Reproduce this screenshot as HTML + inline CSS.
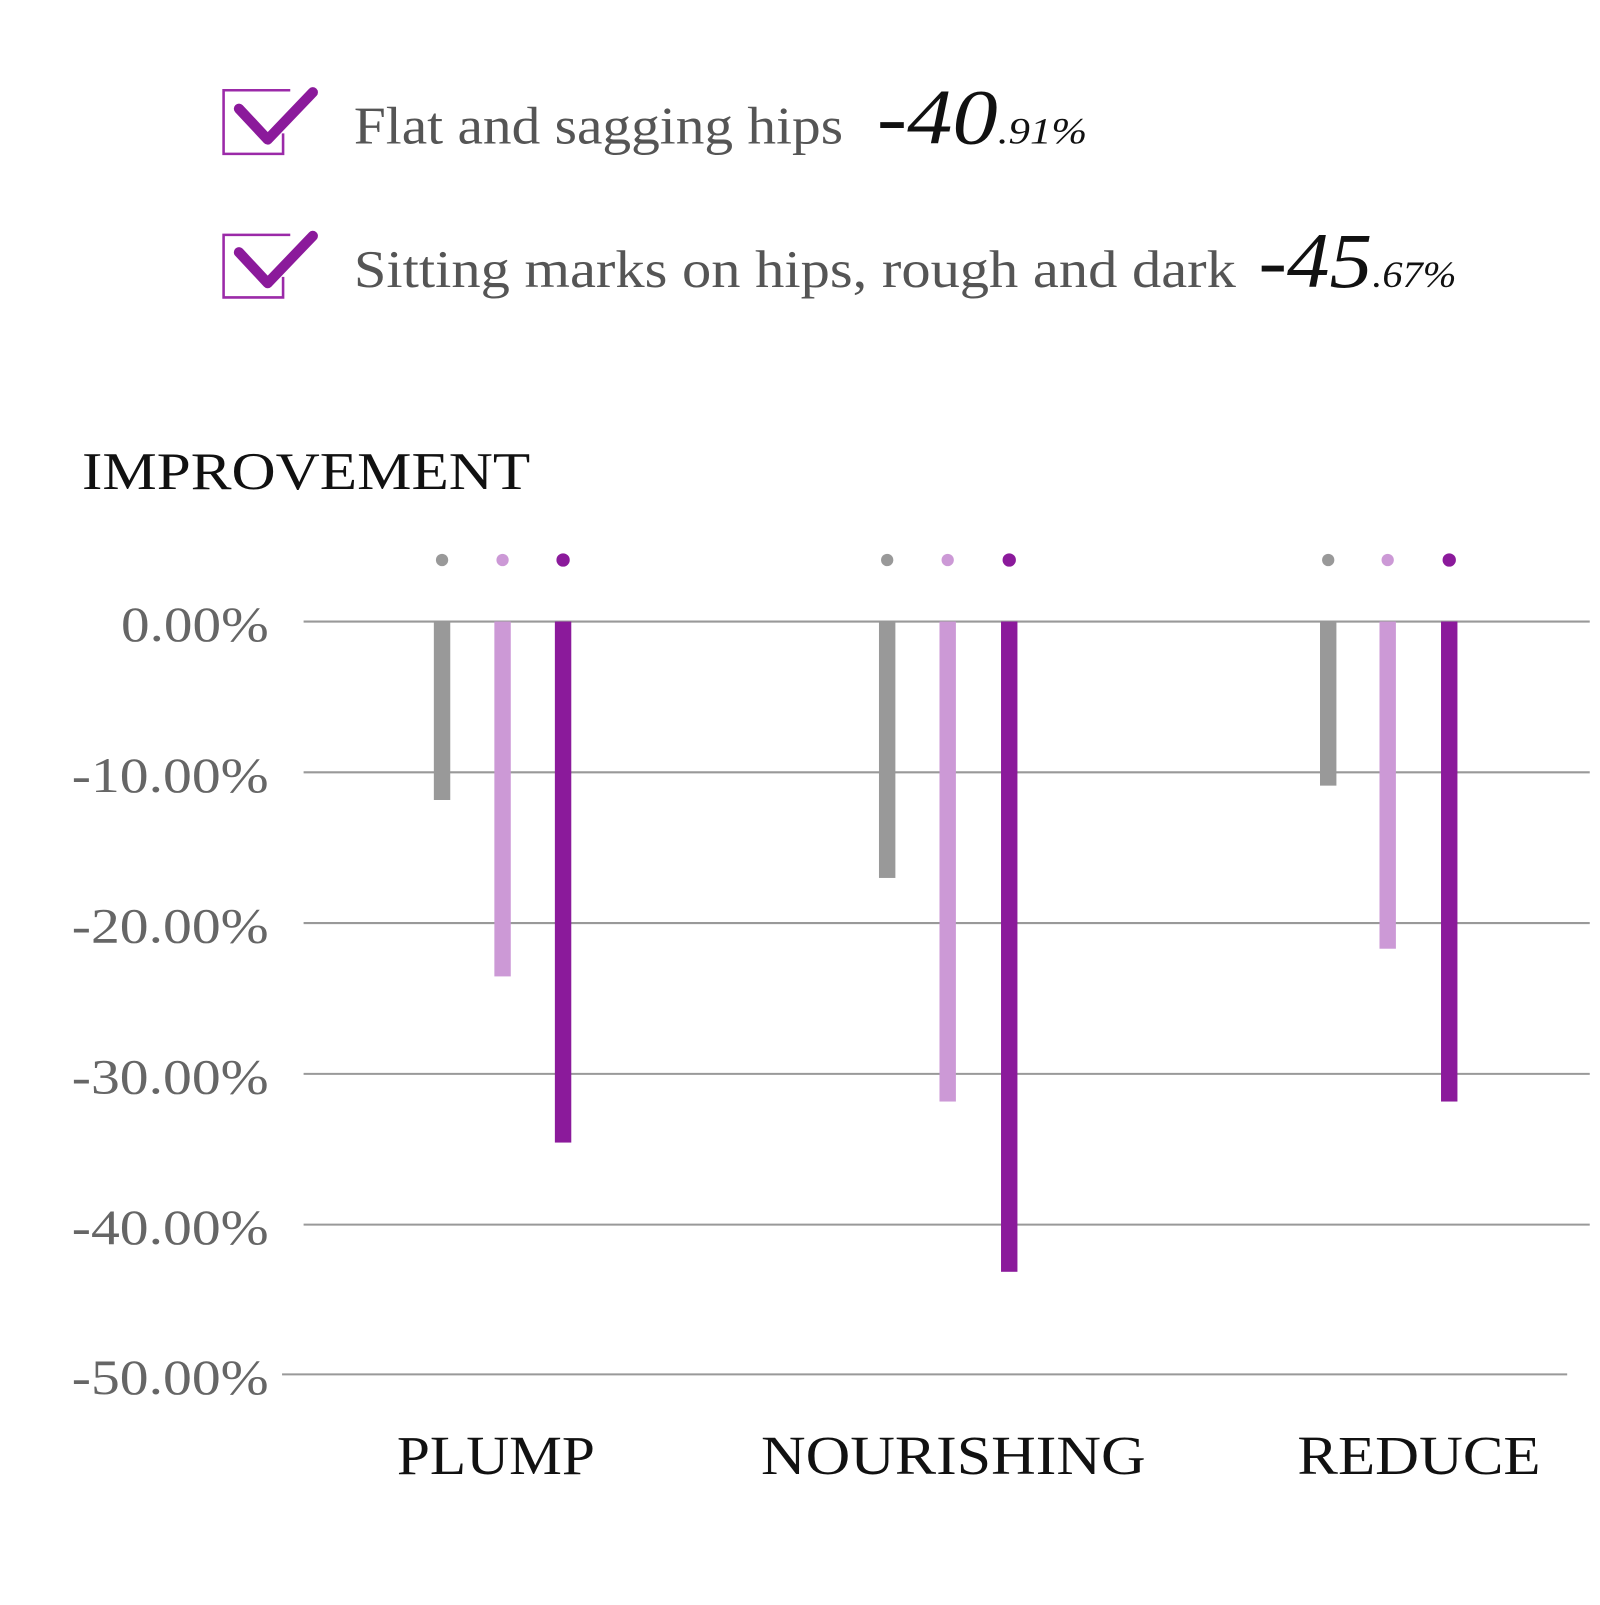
<!DOCTYPE html>
<html><head><meta charset="utf-8"><style>
html,body{margin:0;padding:0;background:#fff;}
body{width:1600px;height:1600px;overflow:hidden;}
</style></head><body>
<svg width="1600" height="1600" viewBox="0 0 1560 1560" xmlns="http://www.w3.org/2000/svg" font-family="Liberation Serif, serif">
<g fill="none" stroke="#9b2aa8" stroke-width="2.5">
<path d="M283 88 H218 V150 H276 V130"/>
<path d="M283 229 H218 V290 H276 V270"/>
</g>
<g fill="none" stroke="#8b1a9b" stroke-width="10" stroke-linecap="round" stroke-linejoin="round">
<path d="M233 106 L261 136 L305 90"/>
<path d="M233 246 L261 276 L305 230"/>
</g>
<text x="345" y="140" font-size="52" fill="#555" textLength="477" lengthAdjust="spacingAndGlyphs">Flat and sagging hips</text>
<text x="855" y="140" font-style="italic" fill="#111" textLength="205" lengthAdjust="spacingAndGlyphs"><tspan font-size="76">-40</tspan><tspan font-size="36">.91%</tspan></text>
<text x="345" y="280" font-size="52" fill="#555" textLength="860" lengthAdjust="spacingAndGlyphs">Sitting marks on hips, rough and dark</text>
<text x="1227" y="280" font-style="italic" fill="#111" textLength="193" lengthAdjust="spacingAndGlyphs"><tspan font-size="76">-45</tspan><tspan font-size="36">.67%</tspan></text>

<text x="80" y="477" font-size="52" fill="#111" textLength="437" lengthAdjust="spacingAndGlyphs">IMPROVEMENT</text>

<g stroke="#999" stroke-width="2">
<line x1="296" y1="606" x2="1550" y2="606"/>
<line x1="296" y1="753" x2="1550" y2="753"/>
<line x1="296" y1="900" x2="1550" y2="900"/>
<line x1="296" y1="1047" x2="1550" y2="1047"/>
<line x1="296" y1="1194" x2="1550" y2="1194"/>
<line x1="275" y1="1340" x2="1528" y2="1340"/>
</g>
<g font-size="48" fill="#666">
<text x="118" y="625" textLength="144" lengthAdjust="spacingAndGlyphs">0.00%</text>
<text x="70" y="772" textLength="192" lengthAdjust="spacingAndGlyphs">-10.00%</text>
<text x="70" y="919" textLength="192" lengthAdjust="spacingAndGlyphs">-20.00%</text>
<text x="70" y="1066" textLength="192" lengthAdjust="spacingAndGlyphs">-30.00%</text>
<text x="70" y="1213" textLength="192" lengthAdjust="spacingAndGlyphs">-40.00%</text>
<text x="70" y="1359" textLength="192" lengthAdjust="spacingAndGlyphs">-50.00%</text>
</g>

<g fill="#999">
<rect x="423" y="606" width="16" height="174"/>
<rect x="857" y="606" width="16" height="250"/>
<rect x="1287" y="606" width="16" height="160"/>
<circle cx="431" cy="546" r="6"/><circle cx="865" cy="546" r="6"/><circle cx="1295" cy="546" r="6"/>
</g>
<g fill="#cc99d6">
<rect x="482" y="606" width="16" height="346"/>
<rect x="916" y="606" width="16" height="468"/>
<rect x="1345" y="606" width="16" height="319"/>
<circle cx="490" cy="546" r="6"/><circle cx="924" cy="546" r="6"/><circle cx="1353" cy="546" r="6"/>
</g>
<g fill="#8b1a9b">
<rect x="541" y="606" width="16" height="508"/>
<rect x="976" y="606" width="16" height="634"/>
<rect x="1405" y="606" width="16" height="468"/>
<circle cx="549" cy="546" r="6.5"/><circle cx="984" cy="546" r="6.5"/><circle cx="1413" cy="546" r="6.5"/>
</g>

<g font-size="54" fill="#111">
<text x="387" y="1437" textLength="193" lengthAdjust="spacingAndGlyphs">PLUMP</text>
<text x="742" y="1437" textLength="375" lengthAdjust="spacingAndGlyphs">NOURISHING</text>
<text x="1265" y="1437" textLength="237" lengthAdjust="spacingAndGlyphs">REDUCE</text>
</g>
</svg>
</body></html>
